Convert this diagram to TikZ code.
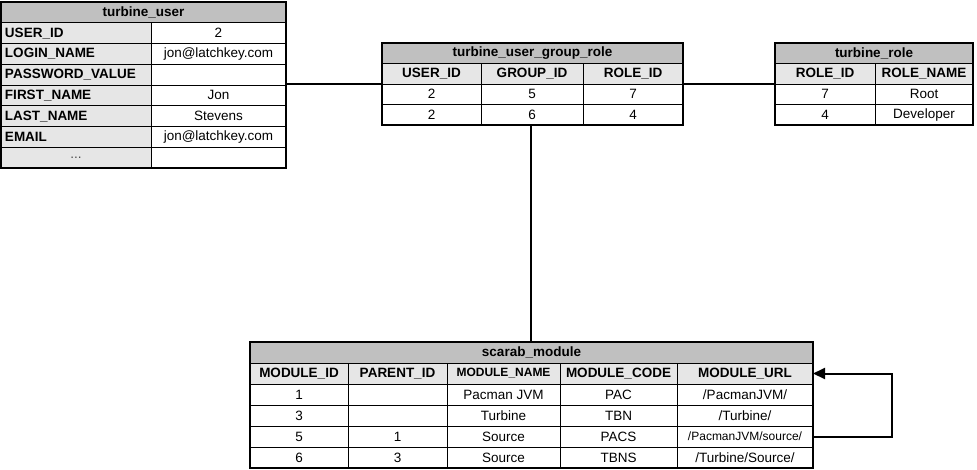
\documentclass[tikz,border=0pt]{standalone}
\usepackage{fontspec}
\setmainfont{Liberation Sans}
\usetikzlibrary{arrows.meta}
\definecolor{titlegray}{RGB}{192,192,192}
\definecolor{hdrgray}{RGB}{230,230,230}
\tikzset{
  cellbase/.style={draw=black, line width=0.8pt, inner sep=0pt, outer sep=0pt, anchor=north west, font=\fontsize{13.5}{15}\selectfont},
  ttl/.style={cellbase, fill=titlegray, font=\fontsize{13.5}{15}\selectfont\bfseries},
  hdr/.style={cellbase, fill=hdrgray, font=\fontsize{13.5}{15}\selectfont\bfseries},
  lab/.style={hdr, align=left, inner xsep=4pt},
  val/.style={cellbase, fill=white},
  frame/.style={draw=black, line width=2pt, inner sep=0pt, outer sep=0pt, anchor=north west},
  conn/.style={draw=black, line width=2pt},
}
\newcommand{\mkcell}[6]{\node[#1, minimum width=#4pt, minimum height=#5pt] (#2) at (#3) {#6};}
\newcommand{\mklab}[5]{\node[lab, text width=#4pt, minimum height=#5pt] (#1) at (#3) {#2};}
\begin{document}
\begin{tikzpicture}[x=1pt,y=-1pt]
\useasboundingbox[fill=white] (0,0) rectangle (977,469);
% ---------------- turbine_user ----------------
\mkcell{ttl}{tut}{1,2}{285}{20.75}{turbine\_user}
\mklab{tul1}{USER\_ID}{1,22.75}{142}{20.75}
\mklab{tul2}{LOGIN\_NAME}{1,43.5}{142}{20.75}
\mklab{tul3}{PASSWORD\_VALUE}{1,64.25}{142}{20.75}
\mklab{tul4}{FIRST\_NAME}{1,85}{142}{20.75}
\mklab{tul5}{LAST\_NAME}{1,105.75}{142}{20.75}
\mklab{tul6}{EMAIL}{1,126.5}{142}{20.75}
\mkcell{hdr}{tul7}{1,147.25}{150}{20.75}{\mdseries\textcolor{black!70}{...}}
\mkcell{val}{tuv1}{151,22.75}{135}{20.75}{2}
\mkcell{val}{tuv2}{151,43.5}{135}{20.75}{jon@latchkey.com}
\mkcell{val}{tuv3}{151,64.25}{135}{20.75}{}
\mkcell{val}{tuv4}{151,85}{135}{20.75}{Jon}
\mkcell{val}{tuv5}{151,105.75}{135}{20.75}{Stevens}
\mkcell{val}{tuv6}{151,126.5}{135}{20.75}{jon@latchkey.com}
\mkcell{val}{tuv7}{151,147.25}{135}{20.75}{}
\node[frame, minimum width=285pt, minimum height=166pt] (tu) at (1,2) {};
% ---------------- turbine_user_group_role ----------------
\mkcell{ttl}{gt}{382,43}{301}{20.5}{turbine\_user\_group\_role}
\mkcell{hdr}{gh1}{382,63.5}{99}{20.5}{USER\_ID}
\mkcell{hdr}{gh2}{481,63.5}{102}{20.5}{GROUP\_ID}
\mkcell{hdr}{gh3}{583,63.5}{100}{20.5}{ROLE\_ID}
\mkcell{val}{ga1}{382,84}{99}{20.5}{2}
\mkcell{val}{ga2}{481,84}{102}{20.5}{5}
\mkcell{val}{ga3}{583,84}{100}{20.5}{7}
\mkcell{val}{gb1}{382,104.5}{99}{20.5}{2}
\mkcell{val}{gb2}{481,104.5}{102}{20.5}{6}
\mkcell{val}{gb3}{583,104.5}{100}{20.5}{4}
\node[frame, minimum width=301pt, minimum height=82pt] (tugr) at (382,43) {};
% ---------------- turbine_role ----------------
\mkcell{ttl}{rt}{775,43}{198}{20.5}{turbine\_role}
\mkcell{hdr}{rh1}{775,63.5}{100}{20.5}{ROLE\_ID}
\mkcell{hdr}{rh2}{875,63.5}{98}{20.5}{ROLE\_NAME}
\mkcell{val}{ra1}{775,84}{100}{20.5}{7}
\mkcell{val}{ra2}{875,84}{98}{20.5}{Root}
\mkcell{val}{rb1}{775,104.5}{100}{20.5}{4}
\mkcell{val}{rb2}{875,104.5}{98}{20.5}{Developer}
\node[frame, minimum width=198pt, minimum height=82pt] (tr) at (775,43) {};
% ---------------- scarab_module ----------------
\mkcell{ttl}{st}{250,342}{563}{21}{scarab\_module}
\mkcell{hdr}{sh1}{250,363}{98}{21}{MODULE\_ID}
\mkcell{hdr}{sh2}{348,363}{99}{21}{PARENT\_ID}
\mkcell{hdr}{sh3}{447,363}{113}{21}{\fontsize{12}{13}\selectfont MODULE\_NAME}
\mkcell{hdr}{sh4}{560,363}{117}{21}{MODULE\_CODE}
\mkcell{hdr}{sh5}{677,363}{136}{21}{MODULE\_URL}
%
\mkcell{val}{sa1}{250,384}{98}{21}{1}
\mkcell{val}{sa2}{348,384}{99}{21}{}
\mkcell{val}{sa3}{447,384}{113}{21}{Pacman JVM}
\mkcell{val}{sa4}{560,384}{117}{21}{PAC}
\mkcell{val}{sa5}{677,384}{136}{21}{/PacmanJVM/}
%
\mkcell{val}{sb1}{250,405}{98}{21}{3}
\mkcell{val}{sb2}{348,405}{99}{21}{}
\mkcell{val}{sb3}{447,405}{113}{21}{Turbine}
\mkcell{val}{sb4}{560,405}{117}{21}{TBN}
\mkcell{val}{sb5}{677,405}{136}{21}{/Turbine/}
%
\mkcell{val}{sc1}{250,426}{98}{21}{5}
\mkcell{val}{sc2}{348,426}{99}{21}{1}
\mkcell{val}{sc3}{447,426}{113}{21}{Source}
\mkcell{val}{sc4}{560,426}{117}{21}{PACS}
\mkcell{val}{sc5}{677,426}{136}{21}{\fontsize{12}{13}\selectfont /PacmanJVM/source/}
%
\mkcell{val}{sd1}{250,447}{98}{21}{6}
\mkcell{val}{sd2}{348,447}{99}{21}{3}
\mkcell{val}{sd3}{447,447}{113}{21}{Source}
\mkcell{val}{sd4}{560,447}{117}{21}{TBNS}
\mkcell{val}{sd5}{677,447}{136}{21}{/Turbine/Source/}
\node[frame, minimum width=563pt, minimum height=126pt] (sm) at (250,342) {};
% ---------------- connectors ----------------
\draw[conn] (tugr.west) -- (tugr.west -| tu.east);
\draw[conn] (tugr.east) -- (tugr.east -| tr.west);
\draw[conn] ([xshift=-1.5pt]tugr.south) -- ([xshift=-1.5pt]tugr.south |- sm.north);
\draw[conn, -{Triangle[length=12pt,width=11pt]}] (sc5.east) -- ++(79,0) |- (sh5.east);
\end{tikzpicture}
\end{document}
